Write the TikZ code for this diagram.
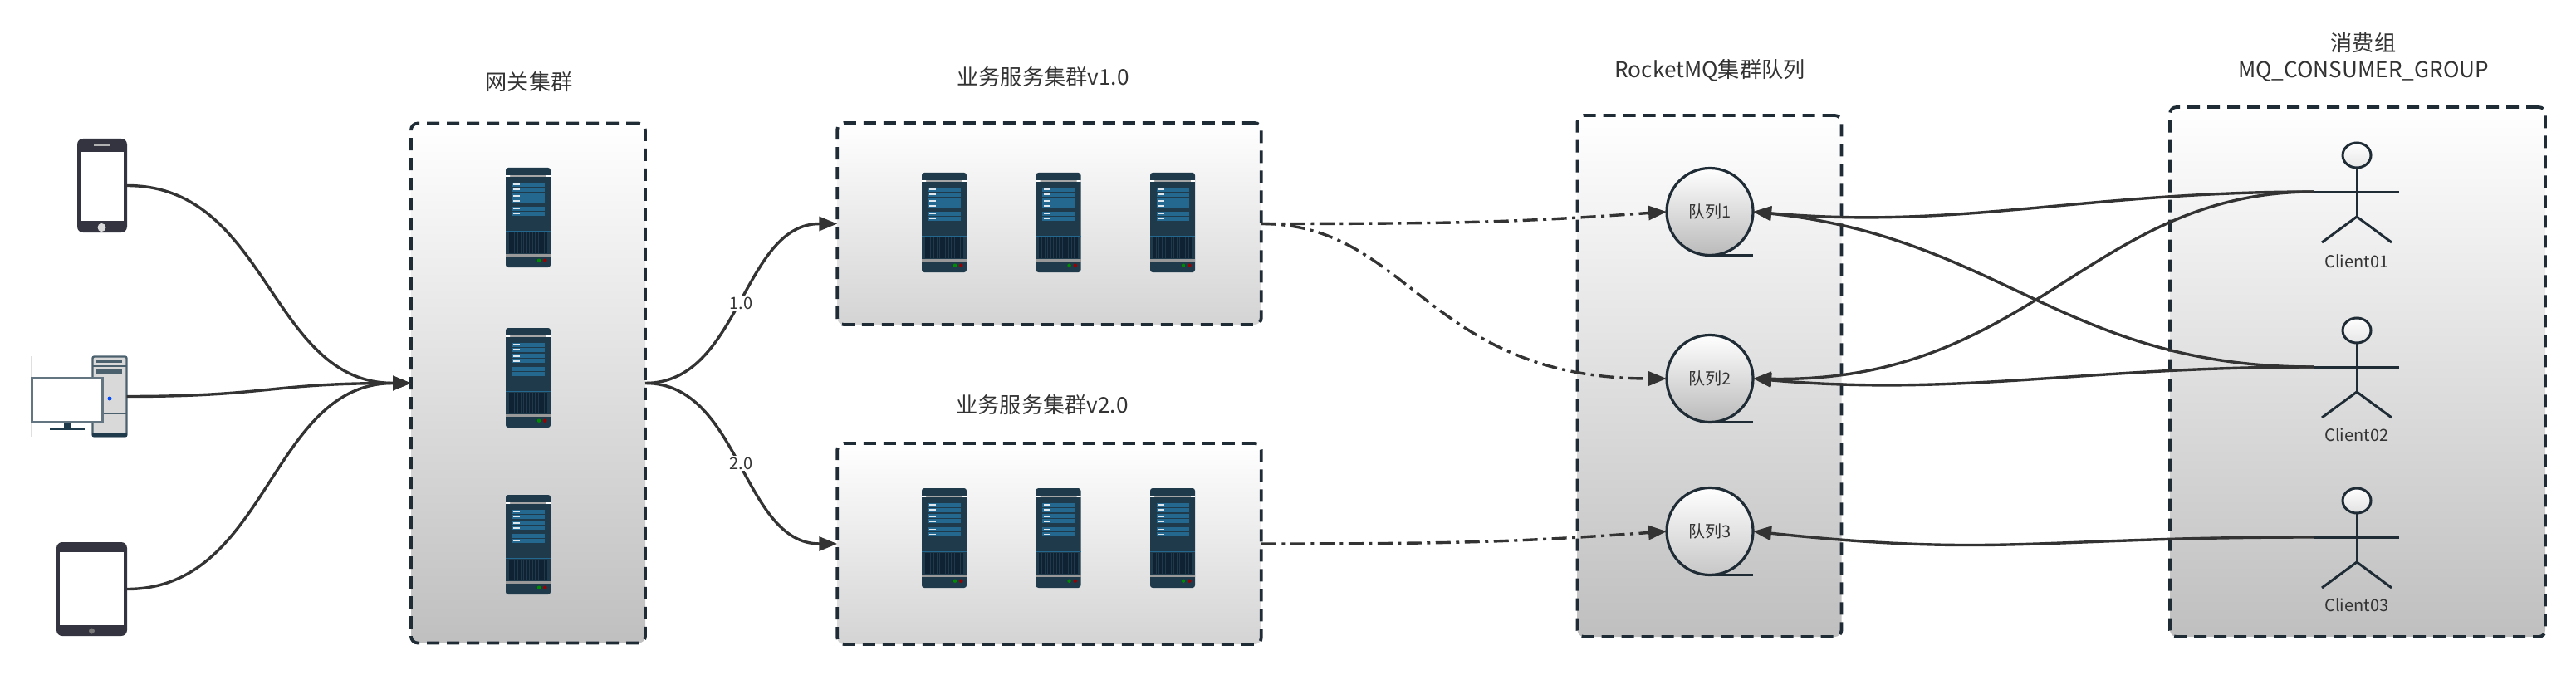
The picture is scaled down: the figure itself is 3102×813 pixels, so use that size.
\documentclass[tikz,border=0pt]{standalone}
\usepackage{fontspec}
\setmainfont{Noto Sans CJK SC}
\usetikzlibrary{arrows.meta,shapes.geometric,calc}
\definecolor{ink}{HTML}{333333}
\definecolor{frame}{HTML}{1F2C36}
\definecolor{srvbody}{HTML}{1F3A4A}
\definecolor{srvrow}{HTML}{24688F}
\definecolor{srvvent}{HTML}{0E2233}
\definecolor{devdark}{HTML}{33343F}
\tikzset{
  x=1pt,y=-1pt,
  groupbox/.style={draw=frame,line width=3.8pt,dash pattern=on 15pt off 9pt,rounded corners=8pt,
    top color=white,inner sep=0pt,outer sep=0pt},
  title/.style={text=ink,font=\fontsize{26.2}{32}\selectfont,align=center,inner sep=0pt},
  small/.style={text=ink,font=\fontsize{20}{24}\selectfont,inner sep=0pt},
  flow/.style={draw=ink,line width=3.4pt,-{Triangle[length=22pt,width=17pt]}},
  dashflow/.style={flow,dash pattern=on 18pt off 6.5pt on 4pt off 6.5pt},
  queue/.style={ellipse,draw=frame,line width=3.2pt,top color=white,bottom color=#1,
    minimum width=104pt,minimum height=105pt,inner sep=0pt,outer sep=0pt},
  queuetail/.style={draw=frame,line width=3.2pt},
  actorline/.style={draw=frame,line width=3pt},
  actorhead/.style={ellipse,draw=frame,line width=3pt,top color=white,bottom color=#1,
    minimum width=34pt,minimum height=30pt,inner sep=0pt,outer sep=0pt},
  edgelabel/.style={small,fill=white,inner sep=1.5pt},
  devbody/.style={rectangle,fill=devdark,rounded corners=7pt,inner sep=0pt,outer sep=0pt},
  pics/srv/.style={code={
    \node[rectangle,fill=srvbody,rounded corners=3pt,minimum width=54pt,minimum height=120pt,
      inner sep=0pt,outer sep=0pt] (-body) at (27,60) {};
    \fill[color=gray!70] (0,9.2) rectangle (54,10.8);
    \fill[white] (0,9.2) rectangle (5,10.8) (49,9.2) rectangle (54,10.8);
    \foreach \ya/\yb in {17.7/22.7,23.7/28.5,31.3/36.3,37.3/42.2,47/52,53/58}{
      \fill[srvrow] (7.7,\ya) rectangle (46.7,\yb);
      \fill[white!85!srvrow] (9,{(\ya+\yb)/2-0.9}) rectangle (16.5,{(\ya+\yb)/2+0.9});
    }
    \fill[srvrow] (0,76) rectangle (54,77);
    \fill[srvvent] (3.7,78) rectangle (50,103);
    \foreach \vx in {7,10.5,14,18,21,25,28,32,35,39,42.5,46}{
      \draw[srvbody,line width=0.7pt] (\vx,78) -- (\vx,103);
    }
    \fill[color=gray!80] (0,103.5) rectangle (54,106.5);
    \fill[green!55!black] (40,111.7) circle[radius=2.2];
    \fill[red!60!black] (47.3,111.7) circle[radius=2.2];
  }},
  pics/stick/.style={code={
    \node[actorhead=#1] (-head) at (0,-44) {};
    \coordinate (-left) at (-52,0);
    \coordinate (-right) at (51,0);
    \coordinate (-hip) at (0,30);
    \coordinate (-footl) at (-42,61);
    \coordinate (-footr) at (42,61);
    \draw[actorline] (-head.south) -- (-hip);
    \draw[actorline] (-left) -- (-right);
    \draw[actorline] (-footl) -- (-hip) -- (-footr);
  }}
}
\begin{document}
\begin{tikzpicture}
\useasboundingbox (0,0) rectangle (3102,813);

% group boxes
\node[groupbox,bottom color=black!25,minimum width=282pt,minimum height=626pt] (gate) at (636,461.5) {};
\node[groupbox,bottom color=black!17,minimum width=510.5pt,minimum height=243pt] (v1) at (1263.5,269.5) {};
\node[groupbox,bottom color=black!17,minimum width=510.5pt,minimum height=242pt] (v2) at (1263.5,655) {};
\node[groupbox,bottom color=black!25,minimum width=318pt,minimum height=628pt] (mq) at (2058.5,453) {};
\node[groupbox,bottom color=black!25,minimum width=452pt,minimum height=638pt] (cons) at (2839,448) {};

% titles
\node[title] (tgate) at (637,99) {网关集群};
\node[title] (tv1) at (1256,93) {业务服务集群v1.0};
\node[title] (tv2) at (1255,488) {业务服务集群v2.0};
\node[title] (tmq) at (2059,85) {RocketMQ集群队列};
\node[title] (tcons) at (2846,69) {消费组\\MQ\_CONSUMER\_GROUP};

% phone
\node[devbody,minimum width=60pt,minimum height=113pt] (phone) at (123,223.5) {};
\fill[white] (97,183) rectangle (149,266);
\fill[gray!60] (113,174) rectangle (133,176.5);
\fill[gray!30] (122.5,274) circle[radius=5];

% desktop
\draw[gray!25,line width=0.8pt] (37.5,429) -- (37.5,526);
\node[rectangle,draw=srvbody!80,fill=gray!30,line width=2.4pt,rounded corners=2pt,
  minimum width=41pt,minimum height=96pt,inner sep=0pt,outer sep=0pt] (pc) at (132,477.5) {};
\fill[srvbody] (111,521.5) rectangle (152.5,526);
\draw[srvbody!80,line width=1.6pt] (111,441) -- (152.5,441) (111,498) -- (152.5,498);
\fill[srvbody!80] (116,434) rectangle (147,437);
\fill[srvbody!80] (116,445) rectangle (147,451);
\fill[blue!70!cyan] (132,480) circle[radius=2.5];
\fill[srvbody] (77,509) rectangle (85,516);
\fill[srvbody] (60,515) rectangle (102,518);
\draw[srvbody!70,fill=white,line width=2.6pt] (38.5,455) rectangle (123.5,508.5);

% tablet
\node[devbody,minimum width=85pt,minimum height=113pt] (tablet) at (110.5,709.5) {};
\fill[white] (72,665) rectangle (148.5,753);
\fill[gray!90!devdark] (110.5,760) circle[radius=3.5];

% servers
\pic (g1) at (609,202) {srv};
\pic (g2) at (609,395) {srv};
\pic (g3) at (609,596) {srv};
\pic (a1) at (1110,208) {srv};
\pic (a2) at (1247.5,208) {srv};
\pic (a3) at (1385,208) {srv};
\pic (b1) at (1110,588) {srv};
\pic (b2) at (1247.5,588) {srv};
\pic (b3) at (1385,588) {srv};

% queues
\node[queue=black!27,small] (q1) at (2059,255) {队列1};
\node[queue=black!27,small] (q2) at (2059,456) {队列2};
\node[queue=black!22,small] (q3) at (2059,640) {队列3};
\foreach \q in {q1,q2,q3}{
  \draw[queuetail] (\q.south) -- (\q.south -| \q.east);
}

% actors
\pic (c1) at (2838,231) {stick=black!10};
\pic (c2) at (2838,442) {stick=black!10};
\pic (c3) at (2838,647) {stick=black!12};
\node[small] (l1) at (2838,315) {Client01};
\node[small] (l2) at (2838,524) {Client02};
\node[small] (l3) at (2838,729) {Client03};

% connectors: clients to gateway
\draw[flow] (phone.east) to[out=0,in=180,out distance=171pt,in distance=171pt] (gate.west);
\draw[flow] (pc.east) to[out=0,in=180,out distance=171pt,in distance=171pt] (gate.west);
\draw[flow] (tablet.east) to[out=0,in=180,out distance=171pt,in distance=171pt] (gate.west);

% gateway to services
\draw[flow] (gate.east) to[out=0,in=180,out distance=115pt,in distance=115pt] node[edgelabel] {1.0} (v1.west);
\draw[flow] (gate.east) to[out=0,in=180,out distance=115pt,in distance=115pt] node[edgelabel] {2.0} (v2.west);

% services to queues
\draw[dashflow] (v1.east) to[out=0,in=184,out distance=244pt,in distance=180pt] (q1.west);
\draw[dashflow] (v1.east) to[out=0,in=180,out distance=180pt,in distance=290pt] (q2.west);
\draw[dashflow] (v2.east) to[out=0,in=184,out distance=244pt,in distance=180pt] (q3.west);

% consumers to queues
\draw[flow] (c1-left) to[out=180,in=-5,out distance=280pt,in distance=250pt] (q1.east);
\draw[flow] (c2-left) to[out=180,in=-6,out distance=300pt,in distance=300pt] (q1.east);
\draw[flow] (c1-left) to[out=180,in=-1,out distance=270pt,in distance=337pt] (q2.east);
\draw[flow] (c2-left) to[out=180,in=-5,out distance=280pt,in distance=250pt] (q2.east);
\draw[flow] (c3-left) to[out=180,in=-6,out distance=337pt,in distance=300pt] (q3.east);
\end{tikzpicture}
\end{document}
